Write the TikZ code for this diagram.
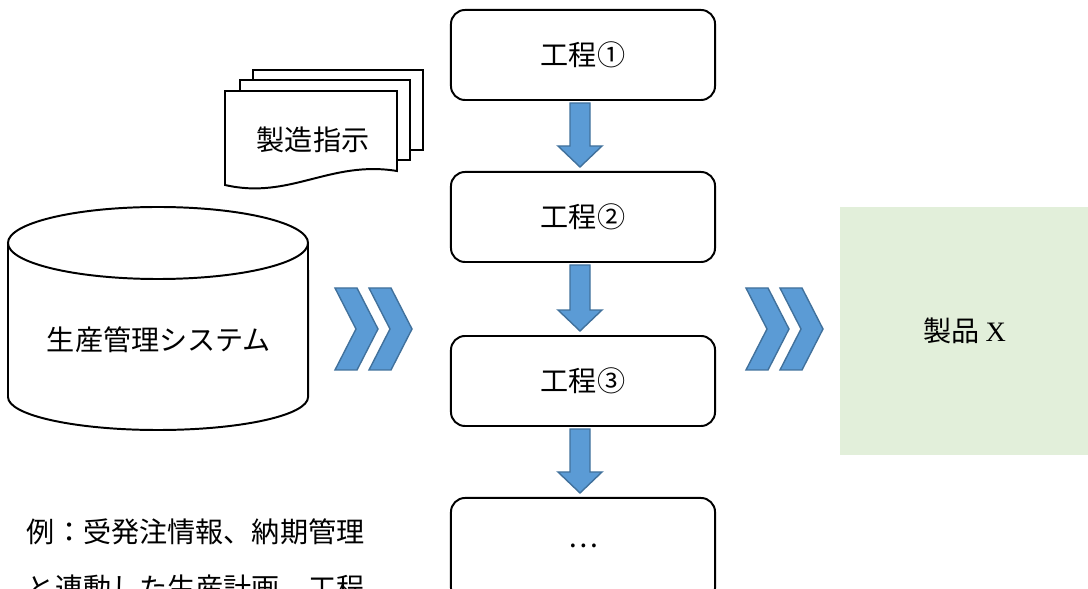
\documentclass[tikz,border=0pt]{standalone}
\usepackage{fontspec}
\setmainfont{Liberation Serif}
\newfontfamily\jp{Noto Sans CJK JP}
\usetikzlibrary{calc}
\definecolor{arrowblue}{HTML}{5B9BD5}
\definecolor{arrowedge}{HTML}{41719C}
\definecolor{prodgreen}{HTML}{E2EFDA}
\newcommand{\blockarrow}[2]{%
\draw[flowarrow]($(#1.south)+(-13,2)$)--($(#1.south)+(7,2)$)--($(#2.north)+(7,-25)$)
 --($(#2.north)+(19,-25)$)--($(#2.north)+(-3,-4)$)--($(#2.north)+(-25,-25)$)--($(#2.north)+(-13,-25)$)--cycle;}
\begin{document}
\begin{tikzpicture}[>=latex, x=0.025cm, y=-0.025cm,
  txt/.style={font=\jp\fontsize{20}{24}\selectfont},
  procbox/.style={txt, draw, line width=1.4pt, rounded corners=0.35cm, minimum width=6.6cm, minimum height=2.25cm},
  flowarrow/.style={fill=arrowblue, draw=arrowedge, line width=1pt, line join=miter},
  page/.style={draw, fill=white, line width=1.4pt}]
\useasboundingbox (0,0) rectangle (1088,589);
\clip (0,0) rectangle (1088,589);
% process steps
\node[procbox] (p1) at (583,55) {工程①};
\node[procbox] (p2) at (583,217) {工程②};
\node[procbox] (p3) at (583,381) {工程③};
\node[procbox, minimum height=2.6cm] (p4) at (583,550) {\raisebox{0.2cm}{…}};
\blockarrow{p1}{p2}
\blockarrow{p2}{p3}
\blockarrow{p3}{p4}
% instructions
\draw[page] (253,70) rectangle (423,150);
\draw[page] (240,80) rectangle (410,160);
\draw[page] (225,91)--(397,91)--(397,171) .. controls (330,160) and (290,200) .. (225,185)--cycle;
\node[txt] (doc) at (313,140) {製造指示};
% database
\draw[line width=1.4pt, fill=white] (8,243)--(8,397) arc[start angle=180, end angle=360, x radius=3.75cm, y radius=0.825cm]--(308,243);
\draw[line width=1.4pt] (158,243) ellipse[x radius=3.75cm, y radius=0.9cm];
\node[txt] (db) at (159,340) {生産管理システム};
% chevrons
\foreach \x in {335,369,746,780}
  \draw[flowarrow] (\x,288)--(\x+22,288)--(\x+43,329)--(\x+22,370)--(\x,370)--(\x+21,329)--cycle;
% product
\node[txt, fill=prodgreen, minimum width=6.2cm, minimum height=6.2cm] (prod) at (964.5,331) {製品 \rmfamily X};
% note
\node[txt, anchor=west] (note1) at (22,532) {例：受発注情報、納期管理};
\node[txt, anchor=west] (note2) at (22,588) {と連動した生産計画、工程};
\end{tikzpicture}
\end{document}
